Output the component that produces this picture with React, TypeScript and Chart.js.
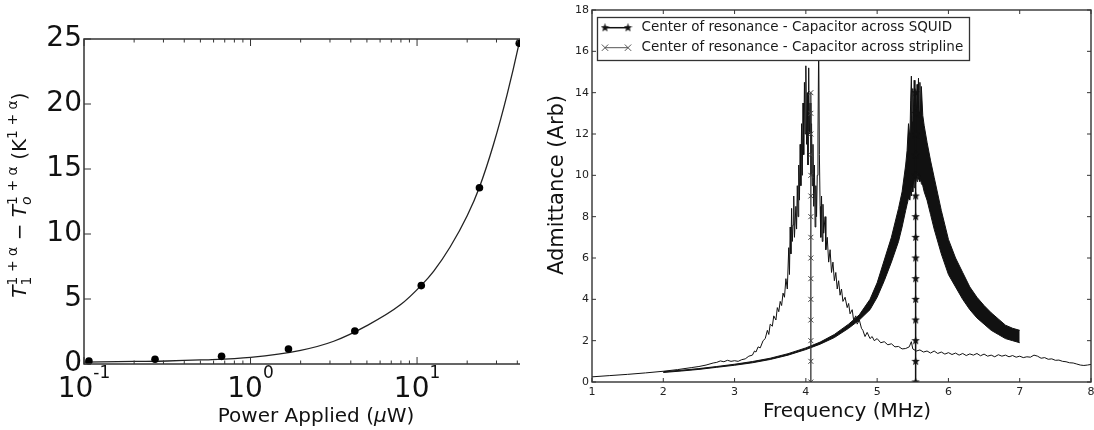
import React, { useEffect, useRef } from 'react';
import { Chart, registerables } from 'chart.js';

Chart.register(...registerables);

const FONT = '"DejaVu Sans", "Liberation Sans", sans-serif';
const INK = '#111111';
const AXIS = '#333333';

// ---------------- Left panel data ----------------
const powerApplied = [0.107, 0.267, 0.67, 1.69, 4.23, 10.6, 23.7, 41.1];
const tempDelta = [0.23, 0.36, 0.59, 1.15, 2.54, 6.03, 13.56, 24.67];
const fitPower = [0.1, 0.2, 0.316, 0.5, 1, 2, 3.16, 5, 7.94, 10.6, 12.6, 15.8, 20, 23.7, 28.8, 34.7, 40.9, 45];
const fitDelta = [0.15, 0.2, 0.23, 0.31, 0.51, 1.05, 1.75, 2.95, 4.55, 6.05, 7.15, 9.0, 11.4, 13.6, 16.9, 20.7, 24.6, 27.2];
const powerTicks = [0.1, 0.2, 0.3, 0.4, 0.5, 0.6, 0.7, 0.8, 0.9, 1, 2, 3, 4, 5, 6, 7, 8, 9, 10, 20, 30, 40, 50, 60];
const powerMajorTicks = [0.1, 1, 10];
const powerTickExponents = ['-1', '0', '1'];
const deltaTicks = [0, 5, 10, 15, 20, 25];

// ---------------- Right panel data ----------------
const freqA = [
  1.0, 1.25, 1.5, 1.75, 2.0, 2.2, 2.4, 2.5, 2.6, 2.7,
  2.75, 2.8, 2.85, 2.9, 2.95, 3.0, 3.05, 3.1, 3.15, 3.2,
  3.25, 3.28, 3.3, 3.33, 3.36, 3.4, 3.43, 3.46, 3.48, 3.5,
  3.53, 3.55, 3.58, 3.6, 3.62, 3.64, 3.66, 3.68, 3.7, 3.72,
  3.74, 3.76, 3.77, 3.78, 3.79, 3.8, 3.81, 3.82, 3.83, 3.84,
  3.86, 3.87, 3.88, 3.89, 3.9, 3.91, 3.92, 3.93, 3.94, 3.95,
  3.96, 3.97, 3.98, 3.99, 4.0, 4.01, 4.02, 4.03, 4.04, 4.05,
  4.06, 4.07, 4.08, 4.09, 4.1, 4.11, 4.12, 4.13, 4.14, 4.15,
  4.16, 4.17, 4.18, 4.19, 4.2, 4.21, 4.22, 4.23, 4.24, 4.25,
  4.27, 4.28, 4.3, 4.32, 4.34, 4.36, 4.38, 4.4, 4.42, 4.44,
  4.46, 4.48, 4.5, 4.52, 4.55, 4.58, 4.6, 4.62, 4.65, 4.67,
  4.7, 4.72, 4.75, 4.78, 4.8, 4.83, 4.86, 4.9, 4.93, 4.96,
  5.0, 5.05, 5.1, 5.15, 5.2, 5.25, 5.3, 5.35, 5.4, 5.45,
  5.48, 5.5, 5.55, 5.6, 5.65, 5.7, 5.75, 5.8, 5.85, 5.9,
  5.95, 6.0, 6.05, 6.1, 6.15, 6.2, 6.25, 6.3, 6.35, 6.4,
  6.45, 6.5, 6.55, 6.6, 6.65, 6.7, 6.75, 6.8, 6.85, 6.9,
  6.95, 7.0, 7.05, 7.1, 7.15, 7.2, 7.25, 7.3, 7.35, 7.4,
  7.45, 7.5, 7.55, 7.6, 7.65, 7.7, 7.75, 7.8, 7.85, 7.9,
  7.95, 8.0,
];
const admA = [
  0.25, 0.31, 0.37, 0.44, 0.52, 0.6, 0.7, 0.75, 0.82, 0.92,
  0.95, 1.02, 0.98, 1.05, 1.0, 1.03, 1.0, 1.08, 1.12, 1.25,
  1.3, 1.5, 1.45, 1.7, 1.65, 2.0, 2.1, 2.5, 2.3, 2.8,
  2.7, 3.2, 3.0, 3.6, 3.4, 3.9, 3.7, 4.3, 4.1, 5.0,
  4.5, 6.5, 5.2, 7.5, 6.2, 8.4, 6.8, 7.6, 9.0, 7.0,
  8.5, 7.4, 9.5, 8.0, 10.5, 8.8, 11.5, 9.5, 12.5, 10.0,
  13.5, 11.0, 14.5, 12.0, 15.3, 11.5, 14.0, 10.5, 15.2, 12.0,
  13.5, 10.0, 12.5, 9.5, 11.5, 8.5, 10.5, 7.5, 9.5, 8.0,
  10.0, 12.0, 16.5, 11.0, 8.5, 7.0, 9.0, 6.8, 8.6, 7.2,
  8.0, 6.4, 7.0, 5.8, 6.4, 5.3, 5.8, 4.9, 5.3, 4.5,
  4.9, 4.2, 4.5, 3.9, 4.1, 3.6, 3.8, 3.3, 3.5, 3.0,
  3.2, 2.8, 3.0, 2.6, 2.5, 2.2, 2.4, 2.1, 2.2, 2.0,
  2.1, 1.9, 1.95, 1.8, 1.85, 1.7, 1.72, 1.6, 1.62, 1.7,
  1.95, 1.6, 1.5, 1.55, 1.45, 1.5, 1.4, 1.5, 1.38, 1.45,
  1.35, 1.42, 1.33, 1.4, 1.3, 1.38, 1.28, 1.36, 1.3, 1.38,
  1.27, 1.35, 1.25, 1.3, 1.22, 1.32, 1.25, 1.3, 1.22, 1.28,
  1.2, 1.25, 1.18, 1.22, 1.2, 1.3, 1.25, 1.15, 1.18, 1.1,
  1.12, 1.05, 1.06, 1.0, 0.98, 0.93, 0.92, 0.87, 0.82, 0.8,
  0.82, 0.85,
];
const freqB = [
  2.0, 2.25, 2.5, 2.75, 3.0, 3.25, 3.5, 3.75, 4.0, 4.2,
  4.4, 4.6, 4.75, 4.9, 5.0, 5.1, 5.2, 5.3, 5.35, 5.4,
  5.42, 5.44, 5.46, 5.47, 5.48, 5.49, 5.5, 5.51, 5.52, 5.53,
  5.54, 5.55, 5.56, 5.57, 5.58, 5.59, 5.6, 5.61, 5.62, 5.64,
  5.66, 5.7, 5.75, 5.8, 5.9, 6.0, 6.1, 6.2, 6.3, 6.4,
  6.5, 6.6, 6.7, 6.8, 6.9, 7.0,
];
const admBLow = [
  0.46, 0.53, 0.61, 0.71, 0.81, 0.93, 1.09, 1.3, 1.57, 1.83,
  2.15, 2.6, 3.0, 3.5, 4.1, 4.9, 5.8, 6.8, 7.5, 8.3,
  8.6, 8.9, 8.8, 9.3, 9.0, 9.5, 9.2, 9.7, 9.4, 9.8,
  9.6, 10.0, 9.7, 10.1, 9.8, 10.0, 9.7, 9.9, 9.6, 9.5,
  9.2, 8.8, 8.1, 7.4, 6.2, 5.2, 4.6, 4.0, 3.5, 3.1,
  2.8, 2.5, 2.3, 2.1, 2.0, 1.9,
];
const admBHigh = [
  0.5, 0.57, 0.65, 0.75, 0.86, 0.99, 1.15, 1.37, 1.65, 1.93,
  2.3, 2.8, 3.25, 4.0, 4.8, 5.9, 7.0, 8.4, 9.2, 10.5,
  11.2, 12.5, 11.8, 13.6, 14.8, 12.6, 14.2, 13.0, 14.6, 13.4,
  14.0, 12.9, 14.4, 13.3, 14.7, 13.1, 14.5, 12.8, 14.3, 12.9,
  12.4, 11.6, 10.7, 9.9, 8.3, 6.9, 6.0, 5.3, 4.6, 4.1,
  3.7, 3.35, 3.05, 2.75, 2.6, 2.5,
];
const squidCenter = 5.54;
const striplineCenter = 4.07;
const markerLevels = [0, 1, 2, 3, 4, 5, 6, 7, 8, 9, 10, 11, 12, 13, 14];
const freqTicks = [1, 2, 3, 4, 5, 6, 7, 8];
const admTicks = [0, 2, 4, 6, 8, 10, 12, 14, 16, 18];
const legendLabels = [
  'Center of resonance - Capacitor across SQUID',
  'Center of resonance - Capacitor across stripline',
];

// ---------------- helpers ----------------
type Seg = { t?: string; size: number; italic?: boolean; dy?: number; sub?: string; sup?: string; subItalic?: boolean };

function fontOf(size: number, italic?: boolean) {
  return `${italic ? 'italic ' : ''}${size}px ${FONT}`;
}

function segWidth(ctx: CanvasRenderingContext2D, s: Seg) {
  if (s.t !== undefined) {
    ctx.font = fontOf(s.size, s.italic);
    return ctx.measureText(s.t).width;
  }
  ctx.font = fontOf(s.size, s.subItalic);
  const a = ctx.measureText(s.sub || '').width;
  ctx.font = fontOf(s.size, false);
  const b = ctx.measureText(s.sup || '').width;
  return Math.max(a, b);
}

function drawRich(ctx: CanvasRenderingContext2D, segs: Seg[], x: number, y: number, rot: number, color: string) {
  ctx.save();
  ctx.translate(x, y);
  ctx.rotate(rot);
  ctx.fillStyle = color;
  ctx.textBaseline = 'alphabetic';
  ctx.textAlign = 'left';
  const total = segs.reduce((w, s) => w + segWidth(ctx, s), 0);
  let cx = -total / 2;
  for (const s of segs) {
    const w = segWidth(ctx, s);
    if (s.t !== undefined) {
      ctx.font = fontOf(s.size, s.italic);
      ctx.fillText(s.t, cx, s.dy || 0);
    } else {
      ctx.font = fontOf(s.size, s.subItalic);
      ctx.fillText(s.sub || '', cx, s.size * 0.4);
      ctx.font = fontOf(s.size, false);
      ctx.fillText(s.sup || '', cx, -s.size * 0.6);
    }
    cx += w;
  }
  ctx.restore();
}

function makeStar(size: number, color: string) {
  const c = document.createElement('canvas');
  c.width = size;
  c.height = size;
  const g = c.getContext('2d') as CanvasRenderingContext2D;
  const r = size / 2;
  const ri = r * 0.42;
  g.beginPath();
  for (let i = 0; i < 10; i++) {
    const ang = -Math.PI / 2 + (i * Math.PI) / 5;
    const rr = i % 2 ? ri : r;
    g.lineTo(r + rr * Math.cos(ang), r + rr * Math.sin(ang));
  }
  g.closePath();
  g.fillStyle = color;
  g.fill();
  return c;
}

export default function App() {
  const leftRef = useRef<HTMLCanvasElement | null>(null);
  const rightRef = useRef<HTMLCanvasElement | null>(null);

  useEffect(() => {
    const star = makeStar(9, INK);

    // ---------------- left chart ----------------
    const leftDecor = {
      id: 'leftDecor',
      afterDatasetsDraw(chart: any) {
        const { ctx, chartArea: a, scales } = chart;
        ctx.save();
        ctx.strokeStyle = AXIS;
        ctx.lineWidth = 1;
        ctx.beginPath();
        for (const v of powerTicks) {
          const p = scales.x.getPixelForValue(v);
          const len = powerMajorTicks.includes(v) ? 7 : 3.5;
          ctx.moveTo(p, a.bottom);
          ctx.lineTo(p, a.bottom - len);
          ctx.moveTo(p, a.top);
          ctx.lineTo(p, a.top + len);
        }
        for (const v of deltaTicks) {
          const p = scales.y.getPixelForValue(v);
          ctx.moveTo(a.left, p);
          ctx.lineTo(a.left + 7, p);
          ctx.moveTo(a.right, p);
          ctx.lineTo(a.right - 7, p);
        }
        ctx.stroke();
        ctx.lineWidth = 1.5;
        ctx.strokeRect(a.left, a.top, a.right - a.left, a.bottom - a.top);

        powerMajorTicks.forEach((v, i) => {
          const p = scales.x.getPixelForValue(v);
          drawRich(ctx, [
            { t: '10', size: 28 },
            { t: powerTickExponents[i], size: 17, dy: -19 },
          ], p, 397, 0, INK);
        });

        drawRich(ctx, [
          { t: 'Power Applied (', size: 20 },
          { t: 'μ', size: 20, italic: true },
          { t: 'W)', size: 20 },
        ], 316, 422, 0, INK);

        drawRich(ctx, [
          { t: 'T', size: 20, italic: true },
          { sub: '1', sup: '1 + α', size: 14 },
          { t: ' − ', size: 20 },
          { t: 'T', size: 20, italic: true },
          { sub: 'o', sup: '1 + α', size: 14, subItalic: true },
          { t: ' (K', size: 20 },
          { t: '1 + α', size: 14, dy: -8.5 },
          { t: ')', size: 20 },
        ], 25.5, 195, -Math.PI / 2, INK);
        ctx.restore();
      },
    };

    const left = new Chart(leftRef.current as HTMLCanvasElement, {
      type: 'line',
      data: {
        datasets: [
          {
            label: 'points',
            data: powerApplied.map((x, i) => ({ x, y: tempDelta[i] })),
            showLine: false,
            pointRadius: 3.8,
            pointBackgroundColor: '#000',
            pointBorderWidth: 0,
            clip: false,
          } as any,
          {
            label: 'fit',
            data: fitPower.map((x, i) => ({ x, y: fitDelta[i] })),
            borderColor: '#222',
            borderWidth: 1.3,
            pointRadius: 0,
            cubicInterpolationMode: 'monotone',
          },
        ],
      },
      options: {
        animation: false,
        responsive: false,
        devicePixelRatio: 1,
        layout: { padding: { left: 0, top: 39, right: 11, bottom: 0 } },
        plugins: { legend: { display: false }, tooltip: { enabled: false } },
        scales: {
          x: {
            type: 'logarithmic',
            min: 0.1,
            max: 62,
            grid: { display: false, drawTicks: false },
            border: { display: false },
            ticks: { display: false },
            afterBuildTicks: (s: any) => { s.ticks = powerTicks.map((v) => ({ value: v })); },
            afterFit: (s: any) => { s.height = 66; },
          },
          y: {
            type: 'linear',
            min: 0,
            max: 25,
            grid: { display: false, drawTicks: false },
            border: { display: false },
            ticks: { font: { family: FONT, size: 28 }, color: INK, padding: 2 },
            afterBuildTicks: (s: any) => { s.ticks = deltaTicks.map((v) => ({ value: v })); },
            afterFit: (s: any) => { s.width = 84; },
          },
        },
      } as any,
      plugins: [leftDecor],
    });

    // ---------------- right chart ----------------
    const rightDecor = {
      id: 'rightDecor',
      afterDatasetsDraw(chart: any) {
        const { ctx, chartArea: a, scales } = chart;
        ctx.save();
        ctx.strokeStyle = AXIS;
        ctx.lineWidth = 1;
        ctx.beginPath();
        for (const v of freqTicks) {
          const p = scales.x.getPixelForValue(v);
          ctx.moveTo(p, a.bottom);
          ctx.lineTo(p, a.bottom - 4);
          ctx.moveTo(p, a.top);
          ctx.lineTo(p, a.top + 4);
        }
        for (const v of admTicks) {
          const p = scales.y.getPixelForValue(v);
          ctx.moveTo(a.left, p);
          ctx.lineTo(a.left + 4, p);
          ctx.moveTo(a.right, p);
          ctx.lineTo(a.right - 4, p);
        }
        ctx.stroke();
        ctx.lineWidth = 1.4;
        ctx.strokeRect(a.left, a.top, a.right - a.left, a.bottom - a.top);

        // legend
        const lx = 57.5, ly = 17.5, lw = 372, lh = 43;
        ctx.fillStyle = '#fff';
        ctx.fillRect(lx, ly, lw, lh);
        ctx.lineWidth = 1.3;
        ctx.strokeStyle = AXIS;
        ctx.strokeRect(lx, ly, lw, lh);
        const rows = [27.7, 47.7];
        ctx.strokeStyle = INK;
        ctx.lineWidth = 1.5;
        ctx.beginPath();
        ctx.moveTo(65, rows[0]);
        ctx.lineTo(88, rows[0]);
        ctx.stroke();
        ctx.drawImage(star, 65 - 4.5, rows[0] - 4.5);
        ctx.drawImage(star, 88 - 4.5, rows[0] - 4.5);
        ctx.strokeStyle = '#555';
        ctx.lineWidth = 1;
        ctx.beginPath();
        ctx.moveTo(65, rows[1]);
        ctx.lineTo(88, rows[1]);
        for (const cx of [65, 88]) {
          ctx.moveTo(cx - 3.2, rows[1] - 3.2);
          ctx.lineTo(cx + 3.2, rows[1] + 3.2);
          ctx.moveTo(cx - 3.2, rows[1] + 3.2);
          ctx.lineTo(cx + 3.2, rows[1] - 3.2);
        }
        ctx.stroke();
        ctx.fillStyle = '#1a1a1a';
        ctx.font = `13.5px ${FONT}`;
        ctx.textBaseline = 'middle';
        ctx.textAlign = 'left';
        ctx.fillText(legendLabels[0], 101.5, rows[0]);
        ctx.fillText(legendLabels[1], 101.5, rows[1]);

        drawRich(ctx, [{ t: 'Frequency (MHz)', size: 20 }], 307, 416.5, 0, INK);
        ctx.save();
        ctx.translate(17.5, 185);
        ctx.rotate(-Math.PI / 2);
        ctx.fillStyle = INK;
        ctx.font = `21px ${FONT}`;
        ctx.textAlign = 'center';
        ctx.textBaseline = 'middle';
        ctx.fillText('Admittance (Arb)', 0, 0);
        ctx.restore();
        ctx.restore();
      },
    };

    const right = new Chart(rightRef.current as HTMLCanvasElement, {
      type: 'line',
      data: {
        datasets: [
          {
            label: legendLabels[0],
            data: markerLevels.map((y) => ({ x: squidCenter, y })),
            borderColor: INK,
            borderWidth: 1.5,
            pointStyle: star,
            pointRadius: 4,
          } as any,
          {
            label: legendLabels[1],
            data: markerLevels.map((y) => ({ x: striplineCenter, y })),
            borderColor: '#333',
            borderWidth: 1.3,
            pointStyle: 'crossRot',
            pointRadius: 3.5,
            pointBorderColor: '#444',
            pointBorderWidth: 1,
          },
          {
            label: 'stripline',
            data: freqA.map((x, i) => ({ x, y: admA[i] })),
            borderColor: INK,
            borderWidth: 1,
            pointRadius: 0,
          },
          {
            label: 'squid low',
            data: freqB.map((x, i) => ({ x, y: admBLow[i] })),
            borderColor: INK,
            borderWidth: 1,
            pointRadius: 0,
          },
          {
            label: 'squid high',
            data: freqB.map((x, i) => ({ x, y: admBHigh[i] })),
            borderColor: INK,
            borderWidth: 1,
            pointRadius: 0,
            fill: '-1',
            backgroundColor: INK,
          },
        ],
      },
      options: {
        animation: false,
        responsive: false,
        devicePixelRatio: 1,
        layout: { padding: { left: 0, top: 10, right: 19, bottom: 0 } },
        plugins: { legend: { display: false }, tooltip: { enabled: false } },
        scales: {
          x: {
            type: 'linear',
            min: 1,
            max: 8,
            grid: { display: false, drawTicks: false },
            border: { display: false },
            ticks: { font: { family: FONT, size: 11 }, color: '#222', padding: 4, autoSkip: false, maxRotation: 0 },
            afterBuildTicks: (s: any) => { s.ticks = freqTicks.map((v) => ({ value: v })); },
            afterFit: (s: any) => { s.height = 48; },
          },
          y: {
            type: 'linear',
            min: 0,
            max: 18,
            grid: { display: false, drawTicks: false },
            border: { display: false },
            ticks: { font: { family: FONT, size: 11 }, color: '#222', padding: 3 },
            afterBuildTicks: (s: any) => { s.ticks = admTicks.map((v) => ({ value: v })); },
            afterFit: (s: any) => { s.width = 52; },
          },
        },
      } as any,
      plugins: [rightDecor],
    });

    return () => {
      left.destroy();
      right.destroy();
    };
  }, []);

  return (
    <div style={{ position: 'absolute', left: 0, top: 0, width: 1094, height: 430, background: '#fff', overflow: 'hidden' }}>
      <div style={{ position: 'absolute', left: 0, top: 0, width: 520, height: 430, overflow: 'hidden' }}>
        <canvas ref={leftRef} width={560} height={430} style={{ display: 'block', width: 560, height: 430 }} />
      </div>
      <div style={{ position: 'absolute', left: 540, top: 0, width: 554, height: 430, overflow: 'hidden' }}>
        <canvas ref={rightRef} width={570} height={430} style={{ display: 'block', width: 570, height: 430 }} />
      </div>
    </div>
  );
}
